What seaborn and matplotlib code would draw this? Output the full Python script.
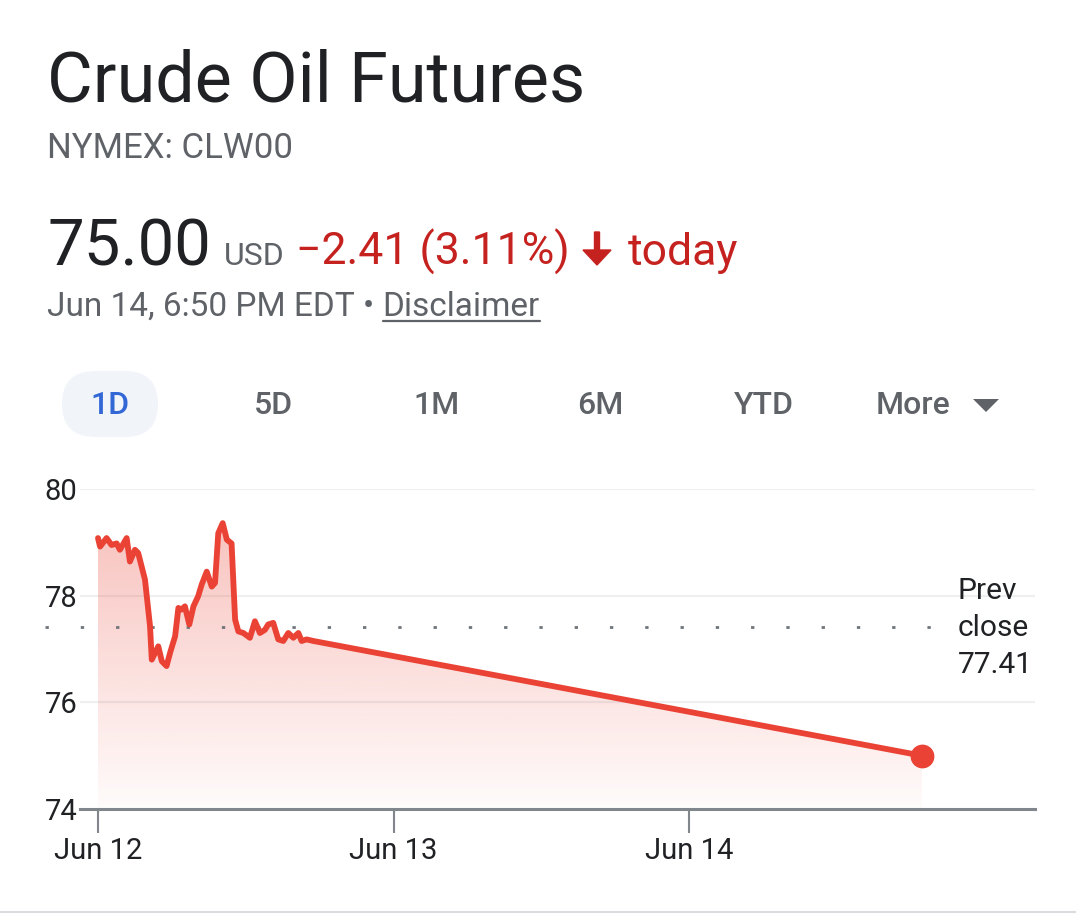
import numpy as np
import pandas as pd
import seaborn as sns
import matplotlib.pyplot as plt
from matplotlib.patches import FancyBboxPatch, FancyArrow, Polygon
from matplotlib.lines import Line2D
from matplotlib.transforms import IdentityTransform

# datos (dias desde Jun 12, precio USD)
dias = [0.0, 0.007, 0.029, 0.046, 0.063, 0.074, 0.097, 0.108, 0.125, 0.136,
        0.159, 0.176, 0.182, 0.204, 0.216, 0.232, 0.244, 0.261, 0.272, 0.283,
        0.294, 0.309, 0.323, 0.339, 0.351, 0.368, 0.385, 0.396, 0.407, 0.422,
        0.436, 0.452, 0.464, 0.475, 0.492, 0.514, 0.531, 0.548, 0.565, 0.576,
        0.593, 0.610, 0.627, 0.644, 0.661, 0.678, 0.689, 0.706, 0.729, 2.788]
precio = [79.08, 78.92, 79.08, 78.95, 78.98, 78.86, 79.08, 78.64, 78.86, 78.80,
          78.30, 77.43, 76.80, 77.05, 76.77, 76.68, 76.93, 77.24, 77.77, 77.74,
          77.80, 77.46, 77.80, 77.99, 78.21, 78.45, 78.17, 78.24, 79.17, 79.36,
          79.05, 78.98, 77.55, 77.33, 77.30, 77.21, 77.52, 77.30, 77.36, 77.46,
          77.49, 77.18, 77.15, 77.30, 77.21, 77.30, 77.15, 77.18, 77.15, 75.00]
cierre_anterior = 77.41
yticks = [74, 76, 78, 80]
xticks = [0, 1, 2]
xlabels = ['Jun 12', 'Jun 13', 'Jun 14']
botones = ['1D', '5D', '1M', '6M', 'YTD', 'More']

df = pd.DataFrame({'dia': dias, 'precio': precio})

ROJO = '#ea4335'
ROJO_TXT = '#c5221f'
GRIS = '#5f6368'
NEGRO = '#202124'
W, H = 1076, 924

sns.set_theme(style='white')
plt.rcParams['font.family'] = ['Roboto', 'DejaVu Sans']

fig = plt.figure(figsize=(W / 100, H / 100), dpi=100)
fig.patch.set_facecolor('white')


def fy(y):
    return 1 - y / H


# textos de cabecera
fig.text(47 / W, fy(102), 'Crude Oil Futures', fontsize=50.5, color=NEGRO, va='baseline')
fig.text(47 / W, fy(158), 'NYMEX: CLW00', fontsize=25, color=GRIS, va='baseline')
fig.text(47 / W, fy(265), '75.00', fontsize=47, color=NEGRO, va='baseline')
fig.text(224 / W, fy(265), 'USD', fontsize=23, color=GRIS, va='baseline')
fig.text(296 / W, fy(265), '\u22122.41 (3.11%)', fontsize=32, color=ROJO_TXT, va='baseline')
fig.text(628 / W, fy(265), 'today', fontsize=32, color=ROJO_TXT, va='baseline')
fig.add_artist(FancyArrow(597, H - 232, 0, -33, width=5, head_width=28, head_length=15,
                          length_includes_head=True, color=ROJO_TXT,
                          transform=IdentityTransform()))
t1 = fig.text(47 / W, fy(316), 'Jun 14, 6:50 PM EDT \u2022 ', fontsize=24, color=GRIS, va='baseline')
fig.canvas.draw()
bb = t1.get_window_extent()
t2 = fig.text(bb.x1 / W, fy(316), 'Disclaimer', fontsize=24, color=GRIS, va='baseline')
fig.canvas.draw()
bb2 = t2.get_window_extent()
fig.add_artist(Line2D([bb2.x0 / W, bb2.x1 / W], [fy(321), fy(321)], color=GRIS, lw=1.6))

# botones de rango
fig.add_artist(FancyBboxPatch((62, H - 437), 96, 66, boxstyle='round,pad=0,rounding_size=33',
                              fc='#f1f4f9', ec='none', transform=IdentityTransform()))
cx = [110, 273, 437, 600, 764, 913]
for i, b in enumerate(botones):
    fig.text(cx[i] / W, fy(406), b, fontsize=23, fontweight='medium',
             color='#3367d6' if i == 0 else GRIS, ha='center', va='center')
fig.add_artist(Polygon([[973, H - 399], [999, H - 399], [986, H - 412]], closed=True,
                       fc=GRIS, ec='none', transform=IdentityTransform()))

# grafico
ax = fig.add_axes([80 / W, 1 - 809 / H, 955 / W, 320 / H])
ax.set_xlim(-18 / 295.5, 937 / 295.5)
ax.set_ylim(74, 80)

poly = ax.fill_between(df['dia'], df['precio'], 74, color='none', lw=0)
grad = np.zeros((256, 1, 4))
rgb = np.array([234, 67, 53]) / 255
grad[:, 0, :3] = rgb
grad[:, 0, 3] = np.linspace(0.32, 0.02, 256)
im = ax.imshow(grad, extent=[0, max(dias), 74, max(precio)], aspect='auto',
               origin='upper', zorder=1)
im.set_clip_path(poly.get_paths()[0], transform=ax.transData)

sns.lineplot(data=df, x='dia', y='precio', color=ROJO, lw=4.2, ax=ax, zorder=3)
ax.scatter([dias[-1]], [precio[-1]], s=260, color=ROJO, zorder=4, clip_on=False)

ax.axhline(cierre_anterior, xmin=-35 / 955, xmax=875 / 955, color='#70757a', lw=2.0,
           linestyle=(0, (1.2, 11.5)), clip_on=False, zorder=2)
for yv in yticks[1:]:
    ax.axhline(yv, color='#eeeff1', lw=1.6, zorder=0)

for s in ['top', 'right', 'left']:
    ax.spines[s].set_visible(False)
ax.spines['bottom'].set_color('#80868b')
ax.spines['bottom'].set_linewidth(2.2)
ax.spines['bottom'].set_zorder(5)

ax.set_yticks(yticks)
ax.set_yticklabels([str(v) for v in yticks])
ax.set_xticks(xticks)
ax.set_xticklabels(xlabels)
ax.tick_params(axis='y', length=0, pad=2, labelsize=21, labelcolor=NEGRO)
ax.tick_params(axis='x', length=17, width=1.5, color='#80868b', pad=3, labelsize=21,
               labelcolor=NEGRO, direction='out', bottom=True)
ax.set_xlabel('')
ax.set_ylabel('')
ax.grid(False)
ax.set_facecolor('none')

fig.text(958 / W, fy(591), 'Prev', fontsize=21.5, color=NEGRO, va='center')
fig.text(958 / W, fy(628), 'close', fontsize=21.5, color=NEGRO, va='center')
fig.text(958 / W, fy(665), f'{cierre_anterior:.2f}', fontsize=21.5, color=NEGRO, va='center')

fig.add_artist(Line2D([0, 1], [fy(912), fy(912)], color='#dadce0', lw=1.5))

fig.savefig('out.png', dpi=100, facecolor='white')
